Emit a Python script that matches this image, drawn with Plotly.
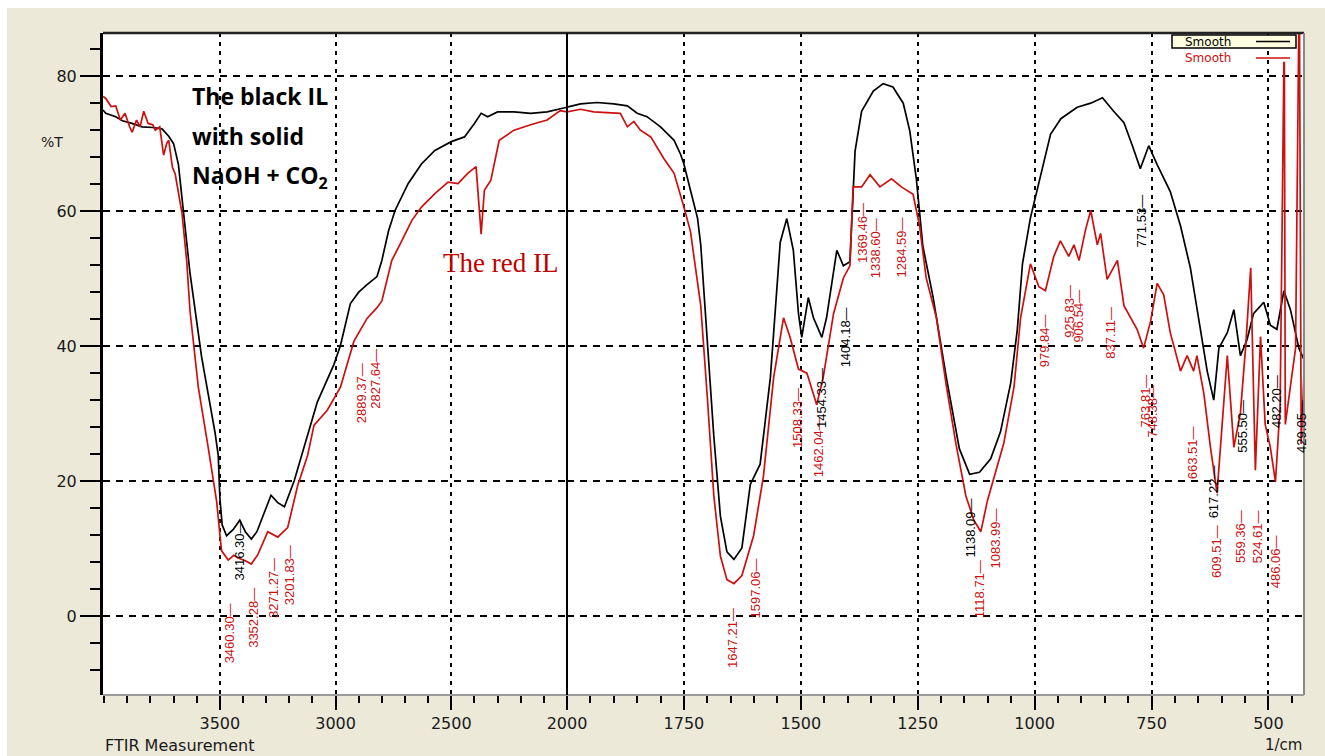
import plotly.graph_objects as go

# ---------------- data (wavenumber 1/cm, %T) ----------------
black_wn = [4005, 3993, 3950, 3921, 3880, 3836, 3790, 3750, 3721, 3700, 3679, 3657, 3643, 3629,
            3607, 3579, 3550, 3521, 3507, 3500, 3490, 3471, 3443, 3414, 3390, 3364, 3340, 3321,
            3279, 3250, 3221, 3179, 3136, 3079, 3007, 2979, 2936, 2900, 2864, 2821, 2800, 2771,
            2743, 2686, 2629, 2571, 2500, 2443, 2400, 2371, 2343, 2300, 2229, 2157, 2086, 2021,
            2000, 1971, 1936, 1900, 1871, 1850, 1829, 1800, 1771, 1757, 1750, 1736, 1721, 1714,
            1700, 1686, 1672, 1658, 1643, 1626, 1608, 1587, 1565, 1551, 1544, 1530, 1516, 1505,
            1498, 1484, 1473, 1455, 1445, 1423, 1409, 1395, 1391, 1384, 1370, 1345, 1324, 1303,
            1281, 1267, 1253, 1239, 1217, 1189, 1161, 1139, 1118, 1094, 1073, 1051, 1037, 1026,
            1009, 987, 966, 944, 909, 880, 855, 831, 809, 791, 774, 756, 738, 710, 688, 667, 645,
            631, 617, 606, 588, 574, 560, 546, 532, 510, 496, 482, 467, 453, 435, 424]
black_t = [75.0, 74.5, 74.0, 73.4, 73.0, 72.5, 72.4, 72.2, 71.1, 70.0, 66.9, 60.4, 55.3, 50.8,
           45.2, 38.4, 32.8, 27.2, 23.8, 17.5, 13.5, 11.9, 12.8, 14.2, 12.5, 11.4, 12.5, 14.2,
           17.9, 16.8, 16.2, 20.0, 24.9, 31.7, 37.3, 40.1, 46.3, 48.0, 49.1, 50.3, 52.7, 57.1,
           60.1, 64.1, 67.0, 69.0, 70.3, 71.0, 73.0, 74.5, 74.0, 74.7, 74.7, 74.5, 74.7, 75.2,
           75.4, 75.9, 76.1, 75.9, 75.6, 74.5, 74.0, 72.5, 70.5, 68.4, 67.0, 63.1, 59.0, 55.0,
           40.1, 26.6, 14.8, 9.5, 8.4, 10.1, 19.5, 22.5, 35.4, 48.4, 55.4, 58.9, 54.2, 44.8,
           41.3, 47.2, 44.2, 41.3, 44.2, 54.2, 51.9, 52.5, 58.9, 68.9, 74.8, 77.8, 78.9, 78.4,
           76.0, 71.9, 64.8, 54.8, 47.2, 35.4, 24.8, 21.0, 21.3, 23.3, 27.3, 34.6, 42.5, 52.2,
           59.0, 65.2, 71.4, 73.7, 75.4, 76.0, 76.8, 74.8, 73.1, 69.7, 66.3, 69.7, 66.9, 62.9,
           57.8, 51.6, 42.5, 36.3, 32.0, 39.7, 42.0, 45.4, 38.6, 40.9, 44.8, 46.5, 43.1, 42.5,
           48.2, 45.4, 39.7, 38.0]

red_wn = [4005, 3993, 3970, 3950, 3930, 3910, 3890, 3879, 3860, 3845, 3829, 3810, 3790, 3779,
          3760, 3743, 3730, 3721, 3705, 3693, 3664, 3643, 3629, 3593, 3550, 3514, 3493, 3464,
          3440, 3421, 3390, 3364, 3336, 3293, 3250, 3207, 3164, 3121, 3093, 3036, 2979, 2921,
          2864, 2821, 2800, 2757, 2714, 2671, 2629, 2571, 2514, 2471, 2429, 2393, 2385, 2379,
          2371, 2357, 2329, 2293, 2229, 2157, 2086, 2029, 2000, 1971, 1943, 1886, 1871, 1857,
          1843, 1821, 1793, 1771, 1757, 1750, 1736, 1721, 1714, 1700, 1686, 1672, 1658, 1643,
          1626, 1601, 1580, 1558, 1537, 1523, 1505, 1487, 1466, 1452, 1430, 1409, 1395, 1391,
          1388, 1370, 1352, 1331, 1306, 1285, 1260, 1246, 1232, 1210, 1189, 1168, 1147, 1130,
          1115, 1101, 1087, 1066, 1044, 1030, 1009, 991, 977, 959, 945, 927, 916, 905, 891, 880,
          866, 859, 845, 823, 809, 781, 767, 752, 738, 724, 710, 688, 674, 660, 653, 638, 624,
          610, 599, 588, 574, 560, 549, 538, 528, 517, 507, 496, 485, 475, 467, 466, 464, 442,
          434, 430, 424]
red_t = [77.0, 76.7, 75.5, 75.6, 73.5, 74.5, 72.5, 71.7, 73.5, 72.5, 74.8, 73.0, 72.8, 72.0,
         72.5, 68.3, 70.0, 70.5, 66.5, 65.5, 59.8, 52.5, 45.2, 33.9, 24.9, 17.0, 9.7, 8.3,
         9.0, 8.6, 8.2, 7.7, 9.1, 12.5, 11.7, 13.1, 19.3, 23.8, 28.3, 30.5, 33.9, 40.7,
         44.1, 45.7, 46.7, 52.7, 55.6, 58.6, 60.6, 62.6, 64.3, 64.1, 65.6, 66.6, 63.0, 60.6,
         56.6, 63.1, 64.6, 70.5, 72.0, 72.8, 73.5, 74.9, 74.7, 75.1, 74.7, 74.5, 72.5, 73.3,
         72.0, 71.0, 67.8, 65.6, 62.5, 60.6, 57.0, 49.7, 46.0, 32.5, 17.8, 8.9, 5.4, 4.8,
         6.0, 11.9, 20.7, 35.4, 44.2, 41.3, 36.6, 36.0, 31.3, 35.4, 44.8, 50.1, 51.9, 58.9,
         63.6, 63.6, 65.4, 63.6, 64.8, 63.6, 62.5, 57.8, 50.1, 44.2, 34.2, 25.4, 17.8, 14.2,
         12.5, 17.1, 20.5, 25.6, 34.0, 44.2, 52.2, 48.8, 48.2, 53.3, 55.6, 53.3, 55.0, 52.7, 57.3, 60.1,
         55.0, 56.7, 49.9, 52.7, 46.0, 42.5, 39.7, 43.7, 49.3, 47.6, 42.0, 36.3, 38.6, 36.3, 38.6, 32.9, 25.0,
         18.2, 28.4, 38.6, 25.0, 30.1, 39.7, 51.6, 21.6, 41.4, 28.4, 25.0, 19.9, 31.2, 82.0, 82.0, 28.4, 39.7,
         95.0, 25.5, 36.0]

# peak labels: (text, %T at the label's lower end)
red_labels = [("3460.30", -7.3), ("3352.28", -5.0), ("3271.27", -0.6), ("3201.83", 1.3),
              ("2889.37", 28.3), ("2827.64", 30.5), ("1647.21", -8.0), ("1597.06", -0.6),
              ("1508.33", 24.6), ("1462.04", 20.2), ("1369.46", 52.0), ("1338.60", 49.8),
              ("1284.59", 49.8), ("1118.71", -0.6), ("1083.99", 6.8), ("979.84", 36.5),
              ("925.83", 40.9), ("906.54", 40.2), ("837.11", 37.8), ("763.81", 27.6),
              ("748.38", 26.1), ("663.51", 19.9), ("609.51", 5.3), ("559.36", 7.6),
              ("524.61", 7.6), ("486.06", 3.9)]
black_labels = [("3416.30", 5.0), ("1454.33", 27.6), ("1404.18", 36.5), ("1138.09", 8.3),
                ("771.53", 54.3), ("617.22", 14.2), ("555.50", 23.9), ("482.20", 27.6),
                ("429.05", 23.9)]

x_major_left = [3500, 3000, 2500]
x_major_right = [2000, 1750, 1500, 1250, 1000, 750, 500]
y_major = [0, 20, 40, 60, 80]

BLACK = "#000000"
RED = "#cc1010"
BEIGE = "#ece9d8"

# ---------------- figure ----------------
W, H = 1325, 756
L, R, T, B = 103, 21, 33, 61
PW, PH = W - L - R, H - T - B


def px(xp):
    return (xp - L) / PW


def py(yp):
    return (H - B - yp) / PH


split = px(567)

fig = go.Figure()
for xa in ["x", "x2"]:
    fig.add_trace(go.Scatter(x=black_wn, y=black_t, mode="lines", xaxis=xa, yaxis="y",
                             line=dict(color=BLACK, width=1.7), showlegend=False,
                             hoverinfo="skip"))
    fig.add_trace(go.Scatter(x=red_wn, y=red_t, mode="lines", xaxis=xa, yaxis="y",
                             line=dict(color=RED, width=1.7), showlegend=False,
                             hoverinfo="skip"))

tickfont = dict(family="DejaVu Sans", size=16, color="#1a1a1a")
common_x = dict(showgrid=True, gridcolor=BLACK, gridwidth=1.6, griddash="4px,5px",
                zeroline=False, showline=False, ticks="outside", ticklen=14, tickwidth=2,
                tickcolor=BLACK, tickfont=tickfont, anchor="y", fixedrange=True)

fig.update_layout(
    width=W, height=H,
    margin=dict(l=L, r=R, t=T, b=B),
    paper_bgcolor=BEIGE, plot_bgcolor="white",
    xaxis=dict(domain=[0, split], range=[4005, 2000], tickmode="array",
               tickvals=x_major_left, ticktext=[str(v) for v in x_major_left],
               minor=dict(dtick=100, tick0=0, ticks="outside", ticklen=7, tickwidth=2,
                          tickcolor=BLACK, showgrid=False),
               **common_x),
    xaxis2=dict(domain=[split, 1], range=[2000, 424], tickmode="array",
                tickvals=x_major_right, ticktext=[str(v) for v in x_major_right],
                minor=dict(dtick=50, tick0=0, ticks="outside", ticklen=7, tickwidth=2,
                           tickcolor=BLACK, showgrid=False),
                **common_x),
    yaxis=dict(range=[-11.7, 86.4], tickmode="array", tickvals=y_major,
               ticktext=[str(v) for v in y_major], showgrid=True, gridcolor=BLACK,
               gridwidth=1.6, griddash="7px,6px", zeroline=False, showline=True,
               linecolor=BLACK, linewidth=3, ticks="outside", ticklen=20, tickwidth=2,
               tickcolor=BLACK, tickfont=tickfont,
               minor=dict(dtick=4, tick0=0, ticks="outside", ticklen=10, tickwidth=2,
                          tickcolor=BLACK, showgrid=False),
               fixedrange=True),
)

shapes = [
    # outer white strips of the screenshot
    dict(type="rect", xref="paper", yref="paper", x0=px(0), x1=px(7), y0=py(H), y1=py(0),
         fillcolor="white", line=dict(width=0), layer="below"),
    dict(type="rect", xref="paper", yref="paper", x0=px(0), x1=px(W), y0=py(8), y1=py(0),
         fillcolor="white", line=dict(width=0), layer="below"),
    # frame
    dict(type="line", xref="paper", yref="paper", x0=0, x1=1, y0=1, y1=1,
         line=dict(color="#222222", width=2.5)),
    dict(type="line", xref="paper", yref="paper", x0=1, x1=1, y0=0, y1=1,
         line=dict(color="#8a8a8a", width=2)),
    dict(type="line", xref="paper", yref="paper", x0=0, x1=1, y0=0, y1=0,
         line=dict(color="#9a9a9a", width=2)),
    # scale change line at 2000
    dict(type="line", xref="paper", yref="paper", x0=split, x1=split, y0=0, y1=1,
         line=dict(color=BLACK, width=2)),
    # legend box
    dict(type="rect", xref="paper", yref="paper", x0=px(1172), x1=px(1296), y0=py(48),
         y1=py(35), fillcolor="#ffffe1", line=dict(color=BLACK, width=1.5)),
    dict(type="line", xref="paper", yref="paper", x0=px(1256), x1=px(1290), y0=py(41.5),
         y1=py(41.5), line=dict(color=BLACK, width=1.5)),
    dict(type="line", xref="paper", yref="paper", x0=px(1256), x1=px(1290), y0=py(58),
         y1=py(58), line=dict(color=RED, width=1.5)),
]

annotations = [
    dict(text="Smooth", xref="paper", yref="paper", x=px(1208), y=py(41.5), showarrow=False,
         font=dict(family="DejaVu Sans", size=12, color=BLACK), xanchor="center",
         yanchor="middle"),
    dict(text="Smooth", xref="paper", yref="paper", x=px(1208), y=py(58), showarrow=False,
         font=dict(family="DejaVu Sans", size=12, color=RED), xanchor="center",
         yanchor="middle"),
    dict(text="%T", xref="paper", yref="paper", x=px(52), y=py(142), showarrow=False,
         font=dict(family="DejaVu Sans", size=14, color="#1a1a1a"), xanchor="center",
         yanchor="middle"),
    dict(text="FTIR Measurement", xref="paper", yref="paper", x=px(103), y=py(745),
         showarrow=False, font=dict(family="DejaVu Sans", size=16, color="#1a1a1a"),
         xanchor="left", yanchor="middle"),
    dict(text="1/cm", xref="paper", yref="paper", x=px(1304), y=py(745), showarrow=False,
         font=dict(family="DejaVu Sans", size=15, color="#1a1a1a"), xanchor="right",
         yanchor="middle"),
    dict(text="The red IL", xref="paper", yref="paper", x=px(500), y=py(263),
         showarrow=False, font=dict(family="Liberation Serif", size=27, color="#c00000"),
         xanchor="center", yanchor="middle"),
]
for i, line in enumerate(["The black IL", "with solid", "NaOH + CO<sub>2</sub>"]):
    annotations.append(dict(text=line, xref="paper", yref="paper", x=px(190),
                            y=py(96 + 40 * i), showarrow=False, xanchor="left",
                            yanchor="middle",
                            font=dict(family="Open Sans", size=23, color=BLACK,
                                      weight="bold")))


def add_labels(labels, color):
    for txt, ybot in labels:
        wn = float(txt)
        annotations.append(dict(text=txt + "\u2014", x=wn, y=ybot,
                                xref="x" if wn > 2000 else "x2", yref="y",
                                textangle=-90, showarrow=False, xanchor="center",
                                yanchor="bottom",
                                font=dict(family="Liberation Sans", size=13, color=color)))


add_labels(red_labels, RED)
add_labels(black_labels, BLACK)

fig.update_layout(shapes=shapes, annotations=annotations)
fig.write_html("out.html")
